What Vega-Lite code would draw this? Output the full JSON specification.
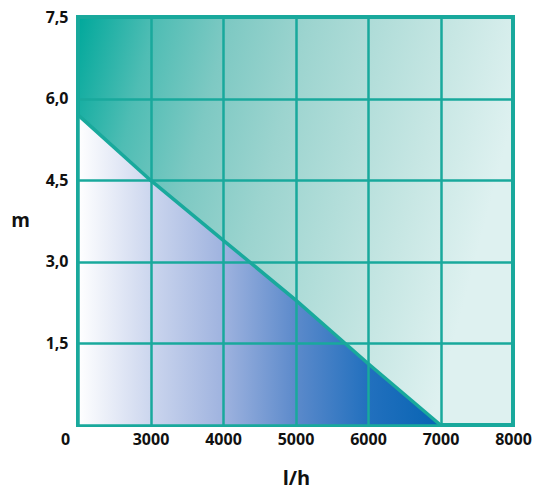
{
  "$schema": "https://vega.github.io/schema/vega-lite/v6.json",
  "width": 435,
  "height": 408,
  "autosize": "none",
  "padding": {"left": 78, "top": 17, "right": 27, "bottom": 75},
  "background": "white",
  "data": {
    "values": [
      {"flow": 0, "head": 5.7},
      {"flow": 3000, "head": 4.5},
      {"flow": 4000, "head": 3.4},
      {"flow": 5000, "head": 2.3},
      {"flow": 6000, "head": 1.13},
      {"flow": 7000, "head": 0}
    ]
  },
  "encoding": {
    "x": {
      "field": "flow",
      "type": "ordinal",
      "scale": {"type": "point", "domain": [0, 3000, 4000, 5000, 6000, 7000, 8000], "padding": 0},
      "axis": {
        "title": "l/h",
        "labelAngle": 0,
        "ticks": false,
        "domain": false,
        "grid": true,
        "gridColor": "#19a99c",
        "gridWidth": 2.5,
        "gridOpacity": 1,
        "zindex": 1,
        "labelFont": "Open Sans",
        "labelFontSize": 16,
        "labelFontWeight": "bold",
        "labelColor": "#111111",
        "labelPadding": 6,
        "labelOffset": {"condition": {"test": "datum.value === 0", "value": -13}, "value": 0},
        "titleFont": "Open Sans",
        "titleFontSize": 20,
        "titleFontWeight": "bold",
        "titleColor": "#111111",
        "titleX": 218,
        "titleY": 53,
        "titleBaseline": "middle",
        "titleAlign": "center"
      }
    },
    "y": {
      "field": "head",
      "type": "quantitative",
      "scale": {"domain": [0, 7.5], "nice": false},
      "axis": {
        "title": "m",
        "values": [0, 1.5, 3, 4.5, 6, 7.5],
        "labelExpr": "datum.value == 0 ? '' : replace(format(datum.value, '.1f'), '.', ',')",
        "ticks": false,
        "domain": false,
        "grid": true,
        "gridColor": "#19a99c",
        "gridWidth": 2.5,
        "gridOpacity": 1,
        "zindex": 1,
        "labelFont": "Open Sans",
        "labelFontSize": 16,
        "labelFontWeight": "bold",
        "labelColor": "#111111",
        "labelPadding": 10,
        "titleFont": "Open Sans",
        "titleFontSize": 19,
        "titleFontWeight": "bold",
        "titleColor": "#111111",
        "titleAngle": 0,
        "titleX": -58,
        "titleY": 203,
        "titleBaseline": "middle",
        "titleAlign": "center"
      }
    }
  },
  "layer": [
    {
      "mark": {
        "type": "area",
        "fill": {
          "gradient": "linear",
          "x1": 0, "y1": 0, "x2": 1, "y2": 0,
          "stops": [
            {"offset": 0, "color": "#ffffff"},
            {"offset": 0.2, "color": "#ccd6ee"},
            {"offset": 0.4, "color": "#9fb3df"},
            {"offset": 0.6, "color": "#5c8acb"},
            {"offset": 0.8, "color": "#2270be"},
            {"offset": 1, "color": "#0864b3"}
          ]
        }
      }
    },
    {
      "mark": {"type": "line", "color": "#19a99c", "strokeWidth": 3.5}
    }
  ],
  "config": {
    "view": {
      "fill": {
        "gradient": "linear",
        "x1": 0, "y1": 0, "x2": 1, "y2": 0.25,
        "stops": [
          {"offset": 0, "color": "#00a89b"},
          {"offset": 0.17, "color": "#4fbdb4"},
          {"offset": 0.33, "color": "#7ec9c3"},
          {"offset": 0.5, "color": "#9cd4cf"},
          {"offset": 0.83, "color": "#c8e7e4"},
          {"offset": 1, "color": "#def1f0"}
        ]
      },
      "stroke": "#19a99c",
      "strokeWidth": 4
    }
  }
}
